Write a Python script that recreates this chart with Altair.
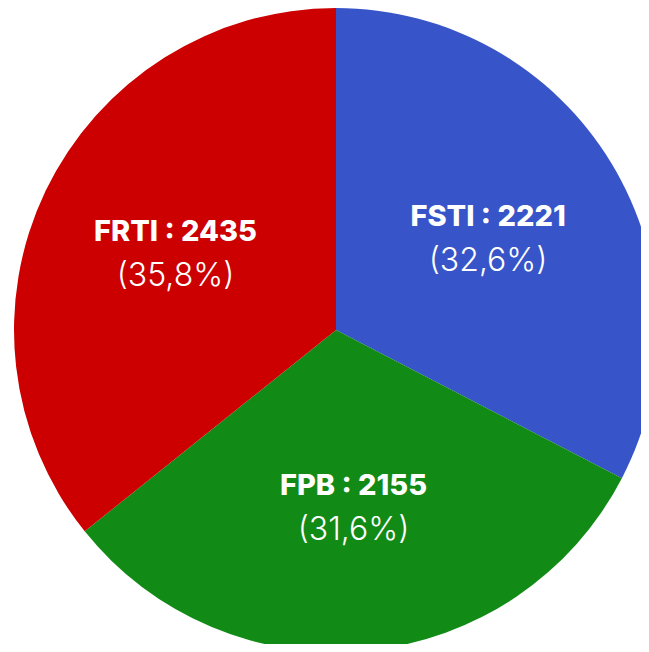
import altair as alt
import pandas as pd

categories = ["FSTI", "FPB", "FRTI"]
values = [2221, 2155, 2435]
percents = ["(32,6%)", "(31,6%)", "(35,8%)"]
colors = ["#3754C8", "#118A16", "#CC0000"]

df = pd.DataFrame({
    "cat": categories,
    "val": values,
    "pct": percents,
    "ord": list(range(len(categories))),
})
df["title"] = [f"{c} : {v}" for c, v in zip(categories, values)]

CX, CY = 328, 322

base = alt.Chart(df).encode(
    theta=alt.Theta("val:Q", stack=True),
    order=alt.Order("ord:Q"),
    x=alt.value(CX),
    y=alt.value(CY),
)

pie = base.mark_arc(outerRadius=322, stroke=None).encode(
    color=alt.Color("cat:N", scale=alt.Scale(domain=categories, range=colors), legend=None)
)

t1 = base.mark_text(radius=178, dy=-21, font="Inter", fontSize=29, fontWeight=800,
                    color="white", baseline="middle", align="center").encode(text="title:N")
t2 = base.mark_text(radius=178, dy=23, font="Inter", fontSize=32, fontWeight=300,
                    color="white", baseline="middle", align="center").encode(text="pct:N")

chart = alt.layer(pie, t1, t2).properties(
    width=633, height=636, padding=0,
    autosize=alt.AutoSizeParams(type="none"),
).configure_view(stroke=None)

chart.save("out.html", embed_options={"renderer": "svg", "actions": False})
